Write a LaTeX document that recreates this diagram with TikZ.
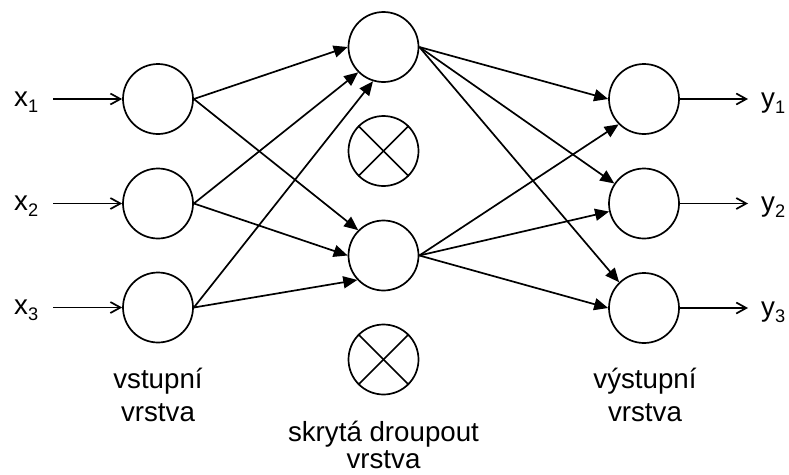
\documentclass[tikz,border=0pt]{standalone}
\usepackage{fontspec}
\setmainfont{Liberation Sans}
\usetikzlibrary{arrows.meta}

% small lowered index for the x / y labels
\newcommand\idx[1]{\raisebox{-6pt}{\fontsize{18.2pt}{18.2pt}\selectfont #1}}

\begin{document}
\begin{tikzpicture}[x=1pt,y=-1pt,
  neuron/.style={circle,draw,line width=1.7pt,minimum size=70pt,inner sep=0pt,fill=white},
  wire/.style={line width=1.7pt,-{Triangle[length=14pt,width=12pt]}},
  iowire/.style={line width=1.7pt,-{Straight Barb[length=10pt,width=11pt,line width=1.7pt]}},
  lbl/.style={font=\fontsize{27.7pt}{33.3pt}\selectfont,inner sep=0pt,align=center},
  iolbl/.style={font=\fontsize{27.7pt}{33.3pt}\selectfont,inner sep=0pt,anchor=base west}
]
\useasboundingbox (0,0) rectangle (789,474);

% input layer
\node[neuron] (I1) at (158,99) {};
\node[neuron] (I2) at (158,203.5) {};
\node[neuron] (I3) at (158,307.5) {};

% hidden layer
\node[neuron] (H1) at (383.5,47) {};
\node[neuron] (H2) at (383.5,255.5) {};

% dropped-out units
\node[neuron] (D1) at (383.5,151) {};
\node[neuron] (D2) at (383.5,359.5) {};
\foreach \d in {D1,D2}{
  \draw[line width=1.7pt] (\d.45) -- (\d.225);
  \draw[line width=1.7pt] (\d.135) -- (\d.315);
}

% output layer
\node[neuron] (O1) at (644,99) {};
\node[neuron] (O2) at (644,203.5) {};
\node[neuron] (O3) at (644,308) {};

% input labels and feed arrows
\node[iolbl] (x1) at (14,106) {x\idx{1}};
\node[iolbl] (x2) at (14,210.5) {x\idx{2}};
\node[iolbl] (x3) at (14,314.5) {x\idx{3}};
\coordinate (s1) at (53,99);
\coordinate (s2) at (53,203.5);
\coordinate (s3) at (53,307.5);
\draw[iowire] (s1) -- (I1.west);
\draw[iowire] (s2) -- (I2.west);
\draw[iowire] (s3) -- (I3.west);

% input -> hidden
\draw[wire] (I1.east) -- (H1.west);
\draw[wire] (I2.east) -- (H1.225);
\draw[wire] (I3.east) -- (H1.253);
\draw[wire] (I1.east) -- (H2.135);
\draw[wire] (I2.east) -- (H2.west);
\draw[wire] (I3.east) -- (H2.223);

% hidden -> output
\draw[wire] (H1.east) -- (O1.west);
\draw[wire] (H1.east) -- (O2.146);
\draw[wire] (H1.east) -- (O3.134);
\draw[wire] (H2.east) -- (O1.225);
\draw[wire] (H2.east) -- (O2.193);
\draw[wire] (H2.east) -- (O3.west);

% output arrows and labels
\coordinate (t1) at (748,99);
\coordinate (t2) at (748,203.5);
\coordinate (t3) at (748,308);
\draw[iowire] (O1.east) -- (t1);
\draw[iowire] (O2.east) -- (t2);
\draw[iowire] (O3.east) -- (t3);
\node[iolbl] (y1) at (761,107) {y\idx{1}};
\node[iolbl] (y2) at (761,211.5) {y\idx{2}};
\node[iolbl] (y3) at (761,316) {y\idx{3}};

% layer captions (base = baseline of the last line)
\node[lbl,anchor=base] (inlbl) at (158,421.5) {vstupní\\vrstva};
\node[lbl,anchor=base] (outlbl) at (645,421.5) {výstupní\\vrstva};
\node[lbl,anchor=base,font=\fontsize{27.7pt}{27pt}\selectfont] (hidlbl) at (383.5,468.5) {skrytá droupout\\vrstva};
\end{tikzpicture}
\end{document}
